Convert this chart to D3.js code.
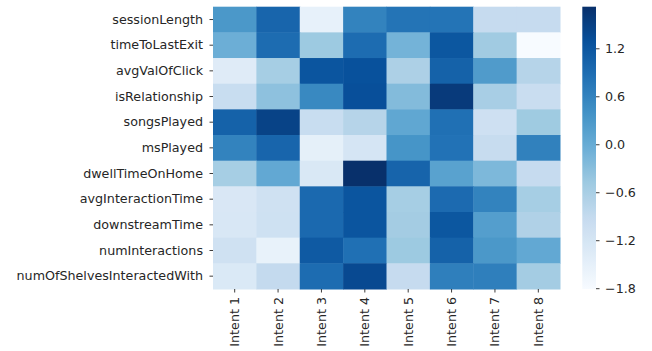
<!DOCTYPE html>
<html>
<head>
<meta charset="utf-8">
<script src="https://cdn.jsdelivr.net/npm/d3@7"></script>
<style>
  html, body { margin: 0; padding: 0; background: #fff; }
  svg { display: block; }
  .axis text { font-family: "DejaVu Sans", sans-serif; font-size: 12.7px; fill: #262626; }
  .axis line { stroke: #262626; stroke-width: 0.9; }
  .axis path.domain { display: none; }
</style>
</head>
<body>
<svg id="chart" width="652" height="351"></svg>
<script>
// Features (rows) and intents (columns) of the standardized heatmap
const features = [
  "sessionLength", "timeToLastExit", "avgValOfClick", "isRelationship",
  "songsPlayed", "msPlayed", "dwellTimeOnHome", "avgInteractionTime",
  "downstreamTime", "numInteractions", "numOfShelvesInteractedWith"
];
const intents = ["Intent 1", "Intent 2", "Intent 3", "Intent 4",
                 "Intent 5", "Intent 6", "Intent 7", "Intent 8"];

// One row of values per feature, in intent order
const values = [
  [ 0.30,  1.00, -1.53,  0.60,  0.80,  0.80, -0.93, -0.93],
  [-0.05,  0.90, -0.48,  0.90, -0.12,  1.20, -0.52, -1.81],
  [-1.38, -0.58,  1.22,  1.28, -0.65,  1.05,  0.25, -0.75],
  [-0.97, -0.35,  0.52,  1.30, -0.25,  1.58, -0.60, -0.98],
  [ 1.05,  1.47, -0.97, -0.75,  0.07,  0.85, -1.07, -0.50],
  [ 0.60,  1.00, -1.50, -1.20,  0.35,  0.82, -0.95,  0.63],
  [-0.58,  0.05, -1.28,  1.72,  1.02,  0.15, -0.20, -0.93],
  [-1.27, -1.10,  0.95,  1.22, -0.58,  0.93,  0.60, -0.58],
  [-1.25, -1.08,  0.95,  1.22, -0.55,  1.20,  0.20, -0.68],
  [-1.10, -1.55,  1.15,  0.85, -0.48,  1.05,  0.30,  0.05],
  [-1.30, -0.90,  0.90,  1.38, -0.93,  0.65,  0.65, -0.55]
];

const colorbarTicks = [-1.8, -1.2, -0.6, 0.0, 0.6, 1.2];

// Sequential "Blues" ramp, linear between the ColorBrewer anchors
const bluesAnchors = ["#f7fbff", "#deebf7", "#c6dbef", "#9ecae1", "#6baed6",
                      "#4292c6", "#2171b5", "#08519c", "#08306b"];

const svg = d3.select("#chart");
const heat = { left: 213, right: 560, top: 6.7, bottom: 289 };
const bar = { left: 582.3, right: 596 };

const flat = values.flat();
const [vmin, vmax] = d3.extent(flat);
const color = d3.scaleSequential(d3.piecewise(d3.interpolateRgb, bluesAnchors))
  .domain([vmin, vmax]);

const x = d3.scaleBand().domain(intents).range([heat.left, heat.right]);
const y = d3.scaleBand().domain(features).range([heat.top, heat.bottom]);

// Cells
const cells = [];
features.forEach((f, i) => intents.forEach((c, j) => cells.push({ f, c, v: values[i][j] })));
svg.append("g")
  .selectAll("rect")
  .data(cells)
  .join("rect")
  .attr("x", d => x(d.c))
  .attr("y", d => y(d.f))
  .attr("width", x.bandwidth() + 0.5)
  .attr("height", y.bandwidth() + 0.5)
  .attr("fill", d => color(d.v));

// Row axis
svg.append("g")
  .attr("class", "axis")
  .attr("transform", `translate(${heat.left},0)`)
  .call(d3.axisLeft(y).tickSize(3.5).tickPadding(6.5));

// Column axis with vertical labels
const xAxis = svg.append("g")
  .attr("class", "axis")
  .attr("transform", `translate(0,${heat.bottom})`)
  .call(d3.axisBottom(x).tickSize(3.5).tickPadding(3.5));
xAxis.selectAll("text")
  .attr("text-anchor", "end")
  .attr("dy", "0.35em")
  .attr("x", -8)
  .attr("y", 0)
  .attr("transform", "rotate(-90)");

// Colorbar
const cbY = d3.scaleLinear().domain([vmin, vmax]).range([heat.bottom, heat.top]);
const grad = svg.append("defs").append("linearGradient")
  .attr("id", "cbgrad")
  .attr("x1", 0).attr("y1", 1).attr("x2", 0).attr("y2", 0);
d3.range(0, 1.0001, 0.02).forEach(t => {
  grad.append("stop")
    .attr("offset", t)
    .attr("stop-color", color(vmin + t * (vmax - vmin)));
});
svg.append("rect")
  .attr("x", bar.left)
  .attr("y", heat.top)
  .attr("width", bar.right - bar.left)
  .attr("height", heat.bottom - heat.top)
  .attr("fill", "url(#cbgrad)");

svg.append("g")
  .attr("class", "axis")
  .attr("transform", `translate(${bar.right},0)`)
  .call(d3.axisRight(cbY).tickValues(colorbarTicks).tickFormat(d3.format(".1f"))
    .tickSize(3.5).tickPadding(5.5));
</script>
</body>
</html>
